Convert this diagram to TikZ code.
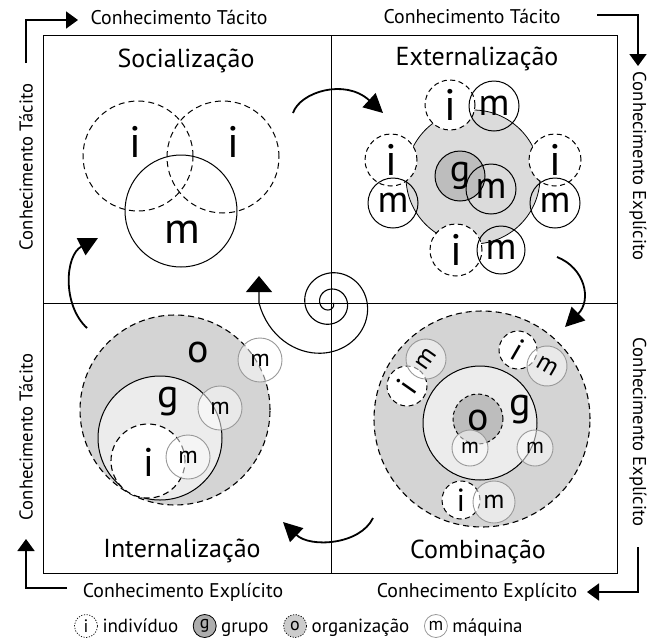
\documentclass[tikz,border=0pt]{standalone}
\usepackage{fontspec}
\setmainfont{PT Sans}
\usetikzlibrary{arrows.meta}
\definecolor{gbig}{gray}{0.83}
\definecolor{glight}{gray}{0.925}
\definecolor{gext}{gray}{0.86}
\definecolor{gdark}{gray}{0.74}
\definecolor{gmline}{gray}{0.6}
\definecolor{glegg}{gray}{0.68}
\definecolor{glego}{gray}{0.8}
\newcommand\fsz[1]{\fontsize{#1}{#1}\selectfont}
\begin{document}
\begin{tikzpicture}[x=1pt,y=-1pt,
  every node/.style={inner sep=0pt, outer sep=0pt},
  lab/.style={font=\fsz{19.8}},
  vlab/.style={font=\fsz{18.6}},
  qtitle/.style={font=\fsz{26}},
  frameline/.style={line width=0.8pt},
  bracket/.style={line width=1.8pt, -{Triangle[width=17pt,length=12pt]}},
  turnarrow/.style={line width=1.8pt, -{Triangle[width=19pt,length=19pt]}},
  spiralline/.style={line width=1.1pt, -{Triangle[width=26pt,length=16pt]}},
  icirc/.style={circle, draw, line width=1pt, dash pattern=on 5pt off 3.5pt, fill=white},
  mcirc/.style={circle, draw, line width=1pt},
  mgray/.style={circle, draw=gmline, line width=0.9pt, fill=white, fill opacity=0.5, text opacity=1},
  bigdash/.style={circle, draw, line width=1.1pt, dash pattern=on 6pt off 4pt},
  legtext/.style={anchor=base west, font=\fsz{19}},
]
\useasboundingbox (0,0) rectangle (648,641);

% ---------- frame ----------
\coordinate (fr-tl) at (43,35);
\coordinate (fr-br) at (617,573);
\coordinate (fr-t) at (331,35);
\coordinate (fr-b) at (331,573);
\coordinate (fr-l) at (43,303);
\coordinate (fr-r) at (617,303);
\draw[frameline] (fr-tl) rectangle (fr-br);
\draw[frameline] (fr-t) -- (fr-b);
\draw[frameline] (fr-l) -- (fr-r);

% ---------- outer labels and brackets ----------
\node[lab] (t-tl) at (179,17) {Conhecimento Tácito};
\node[lab] (t-tr) at (472,16) {Conhecimento Tácito};
\node[vlab, rotate=90] (t-lv1) at (26,167) {Conhecimento Tácito};
\node[vlab, rotate=-90] (t-rv1) at (638,166) {Conhecimento Explícito};
\node[vlab, rotate=-90] (t-rv2) at (638,432) {Conhecimento Explícito};
\node[vlab, rotate=90] (t-lv2) at (26,437) {Conhecimento Tácito};
\node[lab] (t-bl) at (183,592) {Conhecimento Explícito};
\node[lab] (t-br) at (477,592) {Conhecimento Explícito};

\coordinate (b1s) at (26,63);  \coordinate (b1e) at (78,20);
\coordinate (b2s) at (597,15); \coordinate (b2e) at (638,66);
\coordinate (b3s) at (638,547); \coordinate (b3e) at (587,592);
\coordinate (b4s) at (67,588); \coordinate (b4e) at (26,539);
\draw[bracket] (b1s) |- (b1e);
\draw[bracket] (b2s) -| (b2e);
\draw[bracket] (b3s) |- (b3e);
\draw[bracket] (b4s) -| (b4e);

% ---------- quadrant titles ----------
\node[qtitle] (q-soc) at (186,61) {Socialização};
\node[qtitle] (q-ext) at (477,59) {Externalização};
\node[qtitle] (q-int) at (182,551) {Internalização};
\node[qtitle] (q-com) at (478,552) {Combinação};

% ---------- Socialização ----------
\node[circle, draw, line width=1pt, dash pattern=on 6pt off 4pt, minimum size=110pt] (s-i1) at (138,156) {};
\node[circle, draw, line width=1pt, dash pattern=on 6pt off 4pt, minimum size=112pt] (s-i2) at (223,157) {};
\node[mcirc, minimum size=112pt] (s-m) at (181,211) {};
\node[font=\fsz{44}] (s-li1) at (135,142) {i};
\node[font=\fsz{44}] (s-li2) at (233,142) {i};
\node[font=\fsz{44}] (s-lm) at (182,232) {m};

% ---------- Externalização ----------
\node[circle, draw, line width=0.8pt, fill=gext, minimum size=134pt] (e-g0) at (473,177) {};
\node[icirc, minimum size=50pt, font=\fsz{44}] (e-i1) at (450,105) {i};
\node[mcirc, minimum size=50pt, font=\fsz{38}] (e-m1) at (494,106) {m};
\node[icirc, minimum size=52pt, font=\fsz{44}] (e-i2) at (391,160) {i};
\node[mcirc, minimum size=50pt, font=\fsz{38}] (e-m2) at (393,203) {m};
\node[icirc, minimum size=52pt, font=\fsz{44}] (e-i3) at (555,160) {i};
\node[mcirc, minimum size=50pt, font=\fsz{38}] (e-m3) at (555,203) {m};
\node[icirc, minimum size=52pt, font=\fsz{44}] (e-i4) at (456,250) {i};
\node[mcirc, minimum size=48pt, font=\fsz{38}] (e-m4) at (501,250) {m};
\node[circle, draw, line width=1pt, fill=gdark, minimum size=50pt, font=\fsz{38}] (e-gg) at (460,176) {g};
\node[mcirc, minimum size=50pt, font=\fsz{38}] (e-gm) at (491,189) {m};

% ---------- Internalização ----------
\node[bigdash, fill=gbig, minimum size=190pt] (n-o) at (175,410) {};
\node[circle, draw, line width=1pt, fill=glight, minimum size=124pt] (n-g) at (160,438) {};
\node[icirc, line width=1.1pt, dash pattern=on 6pt off 4pt, minimum size=74pt] (n-i) at (148,461) {};
\node[font=\fsz{40}] (n-lo) at (198,352) {o};
\node[font=\fsz{40}] (n-lg) at (168,402) {g};
\node[font=\fsz{40}] (n-li) at (149,462) {i};
\node[mgray, minimum size=44pt, font=\fsz{24}] (n-m1) at (260,360) {m};
\node[mgray, minimum size=44pt, font=\fsz{24}] (n-m2) at (220,408) {m};
\node[mgray, minimum size=44pt, font=\fsz{24}] (n-m3) at (188,457) {m};

% ---------- Combinação ----------
\node[bigdash, fill=gbig, minimum size=216pt] (c-o) at (482,419) {};
\node[circle, draw, line width=1pt, fill=glight, minimum size=114pt] (c-g) at (480,423) {};
\node[circle, draw, line width=1pt, dash pattern=on 4pt off 3pt, fill=gdark, minimum size=50pt] (c-oo) at (478,419) {};
\node[font=\fsz{40}] (c-lo) at (478,420) {o};
\node[font=\fsz{40}] (c-lg) at (520,410) {g};
\node[mgray, minimum size=36pt, font=\fsz{22}] (c-m1) at (470,448) {m};
\node[mgray, minimum size=36pt, font=\fsz{22}] (c-m2) at (535,448) {m};
\node[icirc, minimum size=40pt, font=\fsz{32}, rotate=55] (c-i1) at (407,386) {i};
\node[mgray, minimum size=40pt, font=\fsz{26}, rotate=55] (c-m3) at (426,359) {m};
\node[icirc, minimum size=38pt, font=\fsz{32}, rotate=-30] (c-i2) at (518,350) {i};
\node[mgray, minimum size=40pt, font=\fsz{26}, rotate=-30] (c-m4) at (547,366) {m};
\node[icirc, minimum size=38pt, font=\fsz{32}] (c-i3) at (461,500) {i};
\node[mgray, minimum size=42pt, font=\fsz{26}] (c-m5) at (494,502) {m};

% ---------- turning arrows ----------
\coordinate (a1s) at (293,113); \coordinate (a1e) at (383,113);
\coordinate (a2s) at (557,257); \coordinate (a2e) at (565,327);
\coordinate (a3s) at (373,518); \coordinate (a3e) at (283,522);
\coordinate (a4s) at (87,328);  \coordinate (a4e) at (98,238);
\draw[turnarrow] (a1s) .. controls (300,92) and (345,78) .. (a1e);
\draw[turnarrow] (a2s) .. controls (585,268) and (592,300) .. (a2e);
\draw[turnarrow] (a3s) .. controls (360,545) and (310,548) .. (a3e);
\draw[turnarrow] (a4s) .. controls (62,305) and (65,255) .. (a4e);

% ---------- spiral ----------
\coordinate (sp-tip) at (259,276);
\draw[spiralline] plot[variable=\t, domain=0:900, samples=181]
  ({330+(3+0.04*\t+32*pow(\t/900,8))*cos(\t)}, {303+(3+0.04*\t+32*pow(\t/900,8))*sin(\t)}) -- (sp-tip);

% ---------- legend ----------
\node[circle, draw, line width=0.7pt, dash pattern=on 1.2pt off 1.5pt, minimum size=23pt, font=\fsz{18}] (lg-i) at (86,626) {i};
\node[legtext] (lg-ti) at ([xshift=5pt,yshift=-6.5pt]lg-i.east) {indivíduo};
\node[circle, draw, line width=0.8pt, fill=glegg, minimum size=23pt, font=\fsz{18}, anchor=west] (lg-g) at ([xshift=15pt,yshift=6.5pt]lg-ti.base east) {g};
\node[legtext] (lg-tg) at ([xshift=5pt,yshift=-6.5pt]lg-g.east) {grupo};
\node[circle, draw, line width=0.7pt, dash pattern=on 1.2pt off 1.5pt, fill=glego, minimum size=23pt, font=\fsz{18}, anchor=west] (lg-o) at ([xshift=15pt,yshift=6.5pt]lg-tg.base east) {o};
\node[legtext] (lg-to) at ([xshift=5pt,yshift=-6.5pt]lg-o.east) {organização};
\node[circle, draw=gmline, line width=0.8pt, minimum size=23pt, font=\fsz{18}, anchor=west] (lg-m) at ([xshift=15pt,yshift=6.5pt]lg-to.base east) {m};
\node[legtext] (lg-tm) at ([xshift=5pt,yshift=-6.5pt]lg-m.east) {máquina};
\end{tikzpicture}
\end{document}
